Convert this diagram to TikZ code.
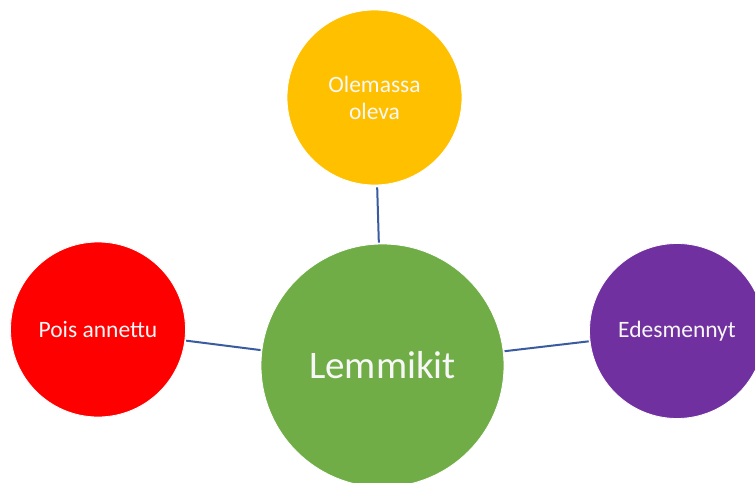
\documentclass[tikz,border=0pt]{standalone}
\usepackage{fontspec}
\setmainfont{Carlito}
\definecolor{cOrange}{HTML}{FFC000}
\definecolor{cRed}{HTML}{FF0000}
\definecolor{cGreen}{HTML}{70AD47}
\definecolor{cPurple}{HTML}{7030A0}
\definecolor{cLine}{HTML}{3A5BA0}
\definecolor{cText}{HTML}{F7F7F7}
\begin{document}
\begin{tikzpicture}[x=1pt,y=-1pt,
  bubble/.style={circle,draw=white,line width=0.8pt,inner sep=0pt,text=cText,align=center},
  small/.style={bubble,minimum size=175pt,font=\fontsize{23.5}{27}\selectfont},
  big/.style={bubble,minimum size=243pt,font=\fontsize{39}{44}\selectfont},
  link/.style={draw=cLine,line width=2pt}]
\useasboundingbox (0,0) rectangle (755,482);
\node[big,fill=cGreen] (center) at (382.5,365.5) {Lemmikit};
\node[small,fill=cOrange] (top) at (374.5,97.5) {Olemassa\\oleva};
\node[small,fill=cRed] (left) at (98,329.5) {Pois annettu};
\node[small,fill=cPurple] (right) at (677,331) {Edesmennyt};
\draw[link,shorten >=1pt,shorten <=2pt] (top) -- (center);
\draw[link,shorten >=1pt,shorten <=1pt] (left) -- (center);
\draw[link,shorten >=1pt,shorten <=1pt] (right) -- (center);
\end{tikzpicture}
\end{document}
